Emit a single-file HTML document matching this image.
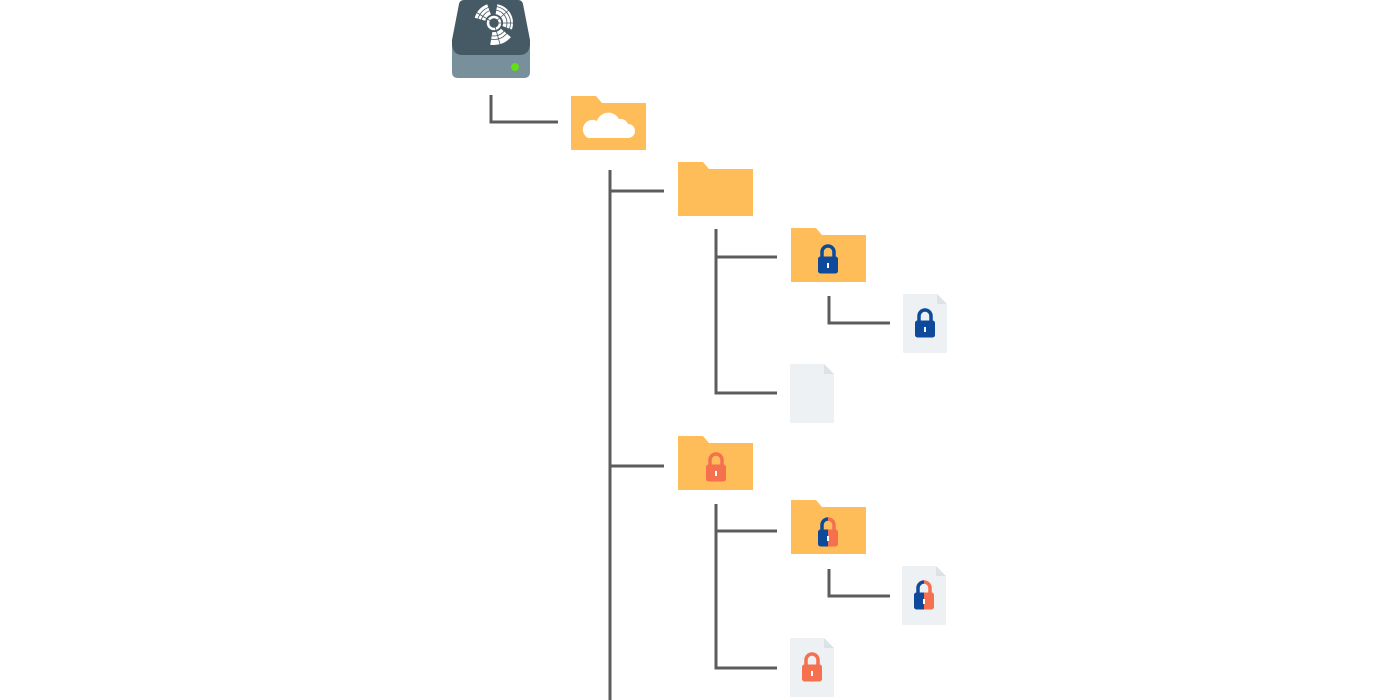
<!DOCTYPE html>
<html><head><style>html,body{margin:0;padding:0;background:#fff;width:1400px;height:700px;overflow:hidden}</style></head>
<body>
<svg width="1400" height="700" viewBox="0 0 1400 700" xmlns="http://www.w3.org/2000/svg">
<defs>
  <path id="folder" d="M0,0 H25 L31,7 H75 V54 H0 Z" fill="#ffbd59"/>
  <g id="file">
    <path d="M1,0 H34 L44,10 V58 Q44,59 43,59 H1 Q0,59 0,58 V1 Q0,0 1,0 Z" fill="#eef1f3"/>
    <path d="M34,0 L44,10 H34 Z" fill="#dde2e6"/>
  </g>
  <g id="lockshape">
    <path d="M-6,1 V-5 A6,6 0 0 1 6,-5 V1" fill="none" stroke-width="3.5"/>
    <rect x="-9.5" y="0" width="19" height="16" rx="2"/>
  </g>
  <g id="keyhole"><rect x="-1" y="6" width="2" height="5" fill="#fff"/></g>
  <clipPath id="lh"><rect x="-20" y="-20" width="20" height="40"/></clipPath>
  <clipPath id="rh"><rect x="0" y="-20" width="20" height="40"/></clipPath>
</defs>

<!-- connectors -->
<g fill="none" stroke="#5c5c5c" stroke-width="3">
  <path d="M491,95 V122 H558"/>
  <path d="M610,170 V700"/>
  <path d="M610,191 H664"/>
  <path d="M610,466 H664"/>
  <path d="M716,229 V393 H777"/>
  <path d="M716,257 H777"/>
  <path d="M829,296 V323 H890"/>
  <path d="M716,504 V668 H777"/>
  <path d="M716,531 H777"/>
  <path d="M829,569 V596 H890"/>
</g>

<!-- drive -->
<path d="M464,0 H518 Q522,0 523,4 L530,40 V48 H452 V40 L459,4 Q460,0 464,0 Z" fill="#455a64"/>
<path d="M452,46 H530 V72 Q530,78 524,78 H458 Q452,78 452,72 Z" fill="#78909c"/>
<path d="M452,42 Q452,55 462,55 H520 Q530,55 530,42 V46 H452 Z" fill="#455a64"/>
<circle cx="515" cy="67" r="4" fill="#64dd17"/>
<circle cx="494" cy="23" r="6" fill="none" stroke="#fff" stroke-width="2.5"/>
<g fill="#fff">
  <path d="M474.7,17.8 A20,20 0 0 1 487.2,4.2 L490.9,14.5 A9,9 0 0 0 485.3,20.7 Z"/>
  <path d="M497.3,4.3 A19,19 0 0 1 511.9,29.5 L502.5,26.1 A9,9 0 0 0 495.6,14.1 Z"/>
  <path d="M510.9,37.1 A22,22 0 0 1 490.2,44.7 L492.4,31.9 A9,9 0 0 0 500.9,28.8 Z"/>
</g>
<g fill="none" stroke="#455a64" stroke-width="0.8">
  <circle cx="494" cy="23" r="13"/>
  <circle cx="494" cy="23" r="16.5"/>
  <path d="M494,23 L474,11 M494,23 L510,9 M494,23 L514,23 M494,23 L500,44"/>
</g>

<!-- cloud folder -->
<use href="#folder" x="571" y="96"/>
<path d="M588,138 H628 A7,7 0 0 0 628,124 A8,8 0 0 0 619,119 A12,12 0 0 0 597,121 A9,9 0 0 0 588,138 Z" fill="#fff"/>

<!-- plain folder -->
<use href="#folder" x="678" y="162"/>

<!-- blue lock folder -->
<use href="#folder" x="791" y="228"/>
<g transform="translate(828,257)" fill="#0d4a9c" stroke="#0d4a9c"><use href="#lockshape"/></g>
<use href="#keyhole" x="828" y="257"/>

<use href="#file" x="903" y="294"/>
<g transform="translate(925,321)" fill="#0d4a9c" stroke="#0d4a9c"><use href="#lockshape"/></g>
<use href="#keyhole" x="925" y="321"/>

<use href="#file" x="790" y="364"/>

<!-- orange lock folder -->
<use href="#folder" x="678" y="436"/>
<g transform="translate(716,465)" fill="#f4704f" stroke="#f4704f"><use href="#lockshape"/></g>
<use href="#keyhole" x="716" y="465"/>

<!-- half lock folder -->
<use href="#folder" x="791" y="500"/>
<g transform="translate(828,530)">
  <g clip-path="url(#lh)" fill="#0d4a9c" stroke="#0d4a9c"><use href="#lockshape"/></g>
  <g clip-path="url(#rh)" fill="#f4704f" stroke="#f4704f"><use href="#lockshape"/></g>
  <use href="#keyhole"/>
</g>

<use href="#file" x="902" y="566"/>
<g transform="translate(924,593)">
  <g clip-path="url(#lh)" fill="#0d4a9c" stroke="#0d4a9c"><use href="#lockshape"/></g>
  <g clip-path="url(#rh)" fill="#f4704f" stroke="#f4704f"><use href="#lockshape"/></g>
  <use href="#keyhole"/>
</g>

<use href="#file" x="790" y="638"/>
<g transform="translate(812,665)" fill="#f4704f" stroke="#f4704f"><use href="#lockshape"/></g>
<use href="#keyhole" x="812" y="665"/>
</svg>
</body></html>
